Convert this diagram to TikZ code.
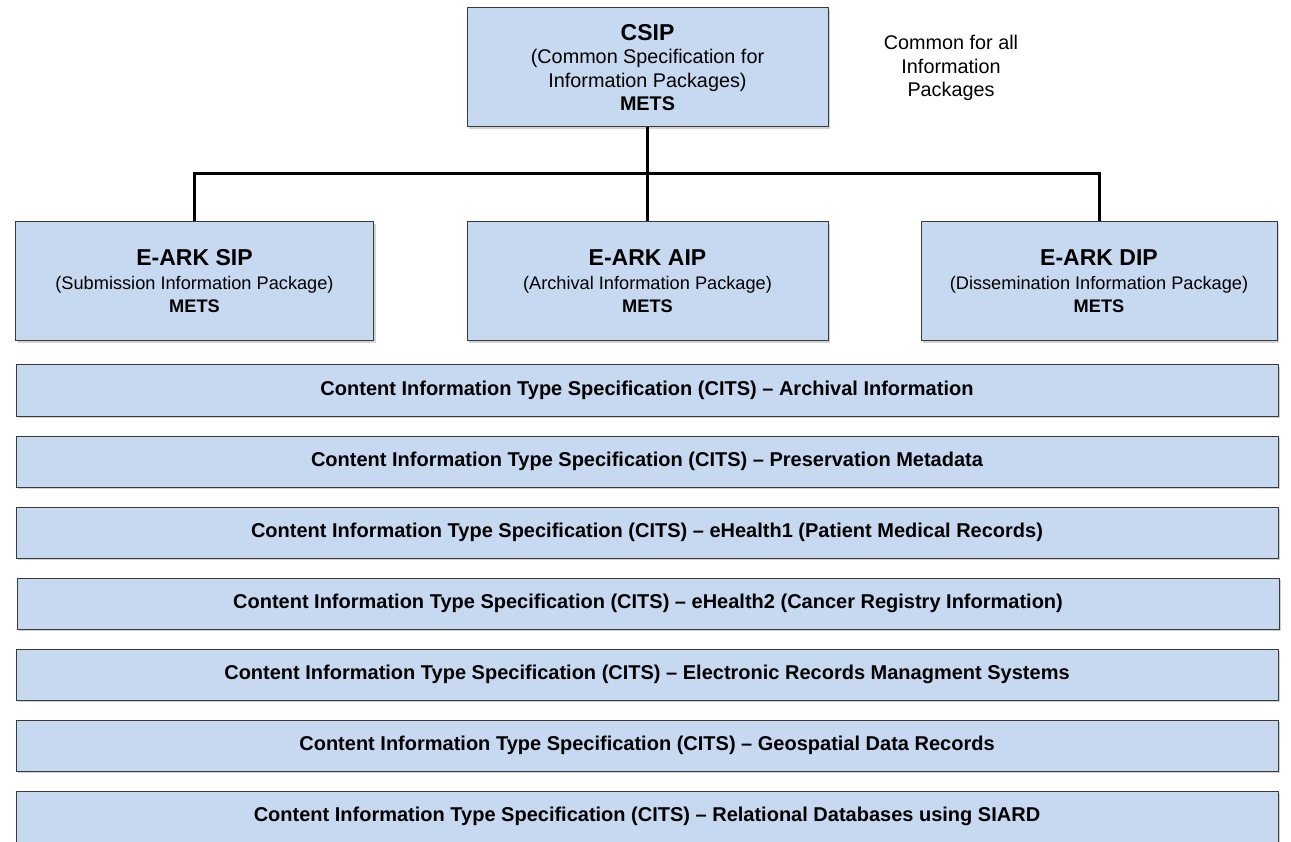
\documentclass[tikz,border=0pt]{standalone}
\usepackage{fontspec}
\setmainfont{Liberation Sans}
\usetikzlibrary{shadows}
\definecolor{boxfill}{HTML}{C6D9F1}
\definecolor{boxline}{HTML}{3A3A3A}
\newcommand{\ttlfont}{\fontsize{23}{24}\selectfont\bfseries}
\tikzset{
  pkg/.style={draw=boxline, line width=1pt, fill=boxfill, align=center,
    drop shadow={shadow xshift=2pt, shadow yshift=-2pt, fill=black!35},
    font=\fontsize{18.2}{23.5}\selectfont, inner sep=0pt},
  cits/.style={draw=boxline, line width=1pt, fill=boxfill,
    drop shadow={shadow xshift=2pt, shadow yshift=-2pt, fill=black!35},
    font=\fontsize{20}{22}\selectfont\bfseries, inner sep=0pt,
    minimum width=1262pt, minimum height=51pt},
  conn/.style={line width=3pt}
}
\begin{document}
\begin{tikzpicture}[x=1pt,y=-1pt]
\useasboundingbox (0,0) rectangle (1291,842);
\node[pkg, font=\fontsize{19.8}{23.5}\selectfont, minimum width=361pt, minimum height=119pt] (csip) at (647.5,67.5)
  {{\ttlfont CSIP}\\(Common Specification for\\Information Packages)\\\textbf{METS}};
\node[font=\fontsize{19.8}{23.5}\selectfont, align=center] (note) at (951,68)
  {Common for all\\Information\\Packages};
\node[pkg, minimum width=358pt, minimum height=119pt] (sip) at (194.5,281.5)
  {{\ttlfont E-ARK SIP}\\(Submission Information Package)\\\textbf{METS}};
\node[pkg, minimum width=361pt, minimum height=119pt] (aip) at (647.5,281.5)
  {{\ttlfont E-ARK AIP}\\(Archival Information Package)\\\textbf{METS}};
\node[pkg, minimum width=356pt, minimum height=119pt] (dip) at (1099,281.5)
  {{\ttlfont E-ARK DIP}\\(Dissemination Information Package)\\\textbf{METS}};
\coordinate (bus) at (647.5,174);
\draw[conn] (csip.south) -- (bus);
\draw[conn] (sip.north) |- (bus) -| (dip.north);
\draw[conn] (bus) -- (aip.north);
\node[cits] (c1) at (647,390.5) {Content Information Type Specification (CITS) – Archival Information};
\node[cits] (c2) at (647,461.5) {Content Information Type Specification (CITS) – Preservation Metadata};
\node[cits] (c3) at (647,532.5) {Content Information Type Specification (CITS) – eHealth1 (Patient Medical Records)};
\node[cits] (c4) at (648,603.5) {Content Information Type Specification (CITS) – eHealth2 (Cancer Registry Information)};
\node[cits] (c5) at (647,674.5) {Content Information Type Specification (CITS) – Electronic Records Managment Systems};
\node[cits] (c6) at (647,745.5) {Content Information Type Specification (CITS) – Geospatial Data Records};
\node[cits] (c7) at (647,816.5) {Content Information Type Specification (CITS) – Relational Databases using SIARD};
\end{tikzpicture}
\end{document}
